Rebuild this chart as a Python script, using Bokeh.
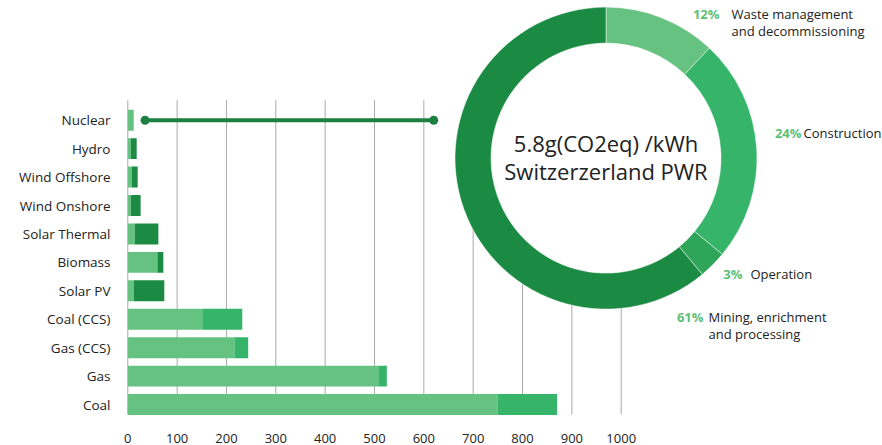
import math
from bokeh.plotting import figure
from bokeh.models import ColumnDataSource, FixedTicker
from bokeh.core.properties import value
from bokeh.embed import file_html
from bokeh.resources import INLINE

# --- data -----------------------------------------------------------------
categories = ["Coal", "Gas", "Gas (CCS)", "Coal (CCS)", "Solar PV", "Biomass",
              "Solar Thermal", "Wind Onshore", "Wind Offshore", "Hydro", "Nuclear"]
base_values = [750, 509, 216, 151, 12, 60, 14, 6, 8, 6, 12]
total_values = [870, 525, 244, 232, 74, 72, 62, 26, 20, 18, 12]
fossil = [True, True, True, True, False, False, False, False, False, False, False]
nuclear_range = [35, 620]
x_ticks = [0, 100, 200, 300, 400, 500, 600, 700, 800, 900, 1000]

shares = [12, 24, 3, 61]
share_labels = ["12%", "24%", "3%", "61%"]
share_names = [["Waste management", "and decommissioning"],
               ["Construction"],
               ["Operation"],
               ["Mining, enrichment", "and processing"]]
center_lines = ["5.8g(CO2eq) /kWh", "Switzerzerland PWR"]

# --- styling --------------------------------------------------------------
LIGHT = "#66c280"
MEDIUM = "#35b46a"
OPERATION = "#2fa55a"
DARK = "#1b8a43"
PCT = "#5cbf78"
TXT = "#222222"
FONT = "Open Sans"

W, H = 882, 445
LEFT, BOTTOM = 120, 25
UNIT_PX = 0.4934      # pixels per gCO2eq/kWh
ZERO_PX = 127.3       # pixel column of the zero line
ROW_PX = 28.5         # pixel pitch between rows
FIRST_ROW_PX = 405    # pixel row of the lowest bar
frame_h = H - BOTTOM


def px_x(px):
    return (px - ZERO_PX) / UNIT_PX


def px_y(py):
    return (FIRST_ROW_PX - py) / ROW_PX


p = figure(width=W, height=H, output_backend="svg", toolbar_location=None,
           x_range=(px_x(LEFT), px_x(W)), y_range=(px_y(frame_h), px_y(0)),
           min_border_left=LEFT, min_border_bottom=BOTTOM,
           min_border_top=0, min_border_right=0)
p.outline_line_color = None
p.xgrid.visible = False
p.ygrid.visible = False
p.background_fill_color = "white"
p.border_fill_color = "white"

# axes
p.xaxis.ticker = FixedTicker(ticks=x_ticks)
p.yaxis.ticker = FixedTicker(ticks=list(range(len(categories))))
p.yaxis.major_label_overrides = {i: c for i, c in enumerate(categories)}
for ax in (p.xaxis[0], p.yaxis[0]):
    ax.axis_line_color = None
    ax.major_tick_line_color = None
    ax.minor_tick_line_color = None
    ax.major_label_text_font = FONT
    ax.major_label_text_font_size = "13px"
    ax.major_label_text_color = TXT
p.yaxis.major_label_text_font_size = "13.5px"
p.yaxis.major_label_standoff = 4
p.xaxis.major_label_standoff = 8

# vertical grid lines at the tick values
p.segment(x0=x_ticks, x1=x_ticks, y0=[px_y(415)] * len(x_ticks),
          y1=[px_y(100)] * len(x_ticks), line_color="#aaaaaa", line_width=1)

# stacked bars
rows = list(range(len(categories)))
upper_colors = [MEDIUM if f else DARK for f in fossil]
src = ColumnDataSource(dict(y=rows, base=base_values, total=total_values,
                            color=upper_colors))
bar_h = 21 / ROW_PX
p.hbar(y="y", left=0, right="base", height=bar_h, source=src,
       fill_color=LIGHT, line_color=None)
p.hbar(y="y", left="base", right="total", height=bar_h, source=src,
       fill_color="color", line_color=None)

# nuclear range line
ny = categories.index("Nuclear")
p.line(x=nuclear_range, y=[ny, ny], line_color="#1c8140", line_width=4)
p.scatter(x=nuclear_range, y=[ny, ny], size=9, fill_color="#1c8140",
          line_color=None)

# donut of nuclear life-cycle emissions
cx, cy = px_x(605.5), px_y(158)
colors = [LIGHT, MEDIUM, OPERATION, DARK]
starts, ends = [], []
acc = 0
for s in shares:
    starts.append(math.pi / 2 - 2 * math.pi * acc / 100)
    acc += s
    ends.append(math.pi / 2 - 2 * math.pi * acc / 100)
p.circle(x=[cx], y=[cy], radius=115, radius_units="screen",
         fill_color="white", line_color=None)
p.annular_wedge(x=[cx] * 4, y=[cy] * 4, inner_radius=115, outer_radius=151,
                inner_radius_units="screen", outer_radius_units="screen",
                start_angle=starts, end_angle=ends, direction="clock",
                fill_color=colors, line_color="white", line_width=0.5)

p.text(x=[cx, cx], y=[px_y(143), px_y(171)], text=center_lines,
       text_font=value(FONT), text_font_size="22px", text_color=TXT,
       text_align="center", text_baseline="middle")

# donut labels
pct_pos = [(719, 14), (801, 133), (742, 274), (703, 317)]
name_pos = [(731, 14), (803, 133), (750, 274), (708, 317)]
for lab, (px0, py0), names, (nx, ny0) in zip(share_labels, pct_pos,
                                               share_names, name_pos):
    p.text(x=[px_x(px0)], y=[px_y(py0)], text=[lab], text_font=value(FONT),
           text_font_size="13px", text_font_style="bold", text_color=PCT,
           text_align="right", text_baseline="middle")
    p.text(x=[px_x(nx)] * len(names),
           y=[px_y(ny0 + 17 * i) for i in range(len(names))], text=names,
           text_font=value(FONT), text_font_size="13px", text_color=TXT,
           text_align="left", text_baseline="middle")

open("out.html", "w").write(file_html(p, INLINE))
